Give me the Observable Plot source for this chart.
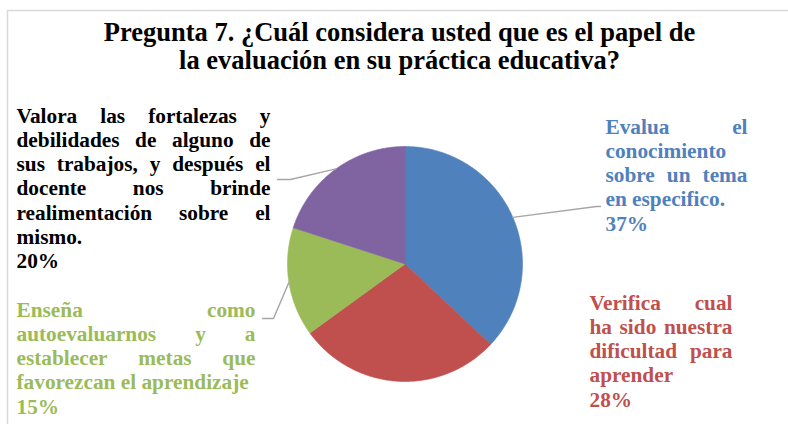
<!DOCTYPE html>
<html>
<head>
<meta charset="utf-8">
<script src="https://cdn.jsdelivr.net/npm/d3@7"></script>
<script src="https://cdn.jsdelivr.net/npm/@observablehq/plot@0.6"></script>
<style>
html, body { margin: 0; padding: 0; background: #fff; overflow: hidden; }
</style>
</head>
<body>
<div id="chart"></div>
<script>
// ---------- data ----------
const titleLines = [
  "Pregunta 7. ¿Cuál considera usted que es el papel de",
  "la evaluación en su práctica educativa?"
];
const categories = ["Evalua", "Verifica", "Enseña", "Valora"];
const values = [37, 28, 15, 20];
const sliceColors = ["#4F81BD", "#C0504D", "#9BBB59", "#8064A2"];
const labelLines = [
  ["Evalua el", "conocimiento", "sobre un tema", "en especifico."],
  ["Verifica cual", "ha sido nuestra", "dificultad para", "aprender"],
  ["Enseña como", "autoevaluarnos y a", "establecer metas que", "favorezcan el aprendizaje"],
  ["Valora las fortalezas y", "debilidades de alguno de", "sus trabajos, y después el", "docente nos brinde", "realimentación sobre el", "mismo."]
];
const labelTextColors = ["#4F81BD", "#C0504D", "#9BBB59", "#000000"];

// ---------- layout ----------
const W = 788, H = 424;
const FONT = "'Liberation Serif', Tinos, 'Times New Roman', 'DejaVu Serif', serif";
const pieLayout = {cx: 404.5, cy: 263.5, r: 117.5};
const labelFont = 21.3, labelLineHeight = 24.3, titleFont = 26.5;
const labelBoxes = [
  {x0: 605, x1: 747, y0: 133, leader: [[596, 206], [600, 206]]},
  {x0: 589, x1: 732, y0: 309, leader: null},
  {x0: 16, x1: 255, y0: 316, leader: [[273, 318], [262, 318]]},
  {x0: 16, x1: 270, y0: 122, leader: [[290, 179], [277, 179]]}
];

// ---------- geometry ----------
const arcs = d3.pie().sort(null).value(d => d)(values);
const pt = (a, r) => [pieLayout.cx + r * Math.sin(a), pieLayout.cy - r * Math.cos(a)];

const slicePoints = [];
arcs.forEach((a, i) => {
  const n = Math.max(2, Math.ceil((a.endAngle - a.startAngle) / 0.01));
  slicePoints.push({cat: categories[i], x: pieLayout.cx, y: pieLayout.cy});
  for (let k = 0; k <= n; k++) {
    const ang = a.startAngle + (a.endAngle - a.startAngle) * k / n;
    const [x, y] = pt(ang, pieLayout.r);
    slicePoints.push({cat: categories[i], x, y});
  }
  slicePoints.push({cat: categories[i], x: pieLayout.cx, y: pieLayout.cy});
});

const shadowPoints = d3.range(0, 361).map(d => {
  const [x, y] = pt(d * Math.PI / 180, pieLayout.r);
  return {x, y};
});

const leaderPoints = [];
arcs.forEach((a, i) => {
  const box = labelBoxes[i];
  if (!box.leader) return;
  const mid = (a.startAngle + a.endAngle) / 2;
  const [x, y] = pt(mid, pieLayout.r);
  leaderPoints.push({cat: categories[i], x, y});
  box.leader.forEach(([lx, ly]) => leaderPoints.push({cat: categories[i], x: lx, y: ly}));
});

// justified word layout
const ctx = document.createElement("canvas").getContext("2d");
ctx.font = `bold ${labelFont}px ${FONT}`;
const measure = s => ctx.measureText(s).width;

function layoutWords(i) {
  const box = labelBoxes[i];
  const lines = [...labelLines[i], `${values[i]}%`];
  const out = [];
  lines.forEach((line, li) => {
    const y = box.y0 + li * labelLineHeight;
    const words = line.split(" ");
    const justify = li < labelLines[i].length - 1 && words.length > 1;
    if (!justify) {
      out.push({x: box.x0, y, text: line});
      return;
    }
    const total = d3.sum(words, measure);
    const gap = (box.x1 - box.x0 - total) / (words.length - 1);
    let x = box.x0;
    words.forEach(w => {
      out.push({x, y, text: w});
      x += measure(w) + gap;
    });
  });
  return out;
}

const labelMarks = categories.map((c, i) =>
  Plot.text(layoutWords(i), {
    x: "x", y: "y", text: "text",
    textAnchor: "start", lineAnchor: "bottom",
    fontFamily: FONT, fontWeight: "bold", fontSize: labelFont,
    fill: labelTextColors[i]
  })
);

const titleData = titleLines.map((t, i) => ({t, x: 399, y: 40 + i * 28.3}));

const chart = Plot.plot({
  width: W, height: H,
  margin: 0,
  style: {fontFamily: FONT},
  x: {domain: [0, W], range: [0, W], axis: null},
  y: {domain: [0, H], range: [0, H], axis: null},
  color: {domain: categories, range: sliceColors},
  marks: [
    Plot.rect([{}], {x1: 7.5, y1: 10.5, x2: W + 20, y2: H + 20, fill: "none", stroke: "#d9d9d9", strokeWidth: 1.5}),
    Plot.text(titleData, {
      x: "x", y: "y", text: "t", textAnchor: "middle", lineAnchor: "bottom",
      fontFamily: FONT, fontWeight: "bold", fontSize: titleFont, fill: "#000"
    }),
    Plot.line(shadowPoints, {x: "x", y: "y", fill: "#000", fillOpacity: 0.22, stroke: "none", dx: 1, dy: 1.5, ariaLabel: "pie-shadow"}),
    Plot.line(slicePoints, {x: "x", y: "y", z: "cat", fill: "cat", stroke: "cat", strokeWidth: 0.6, curve: "linear"}),
    Plot.line(leaderPoints, {x: "x", y: "y", z: "cat", stroke: "#a6a6a6", strokeWidth: 1.4, fill: "none"}),
    ...labelMarks
  ]
});

const sh = chart.querySelector('g[aria-label="pie-shadow"]');
if (sh) sh.style.filter = "blur(2px)";
document.getElementById("chart").appendChild(chart);
</script>
</body>
</html>
